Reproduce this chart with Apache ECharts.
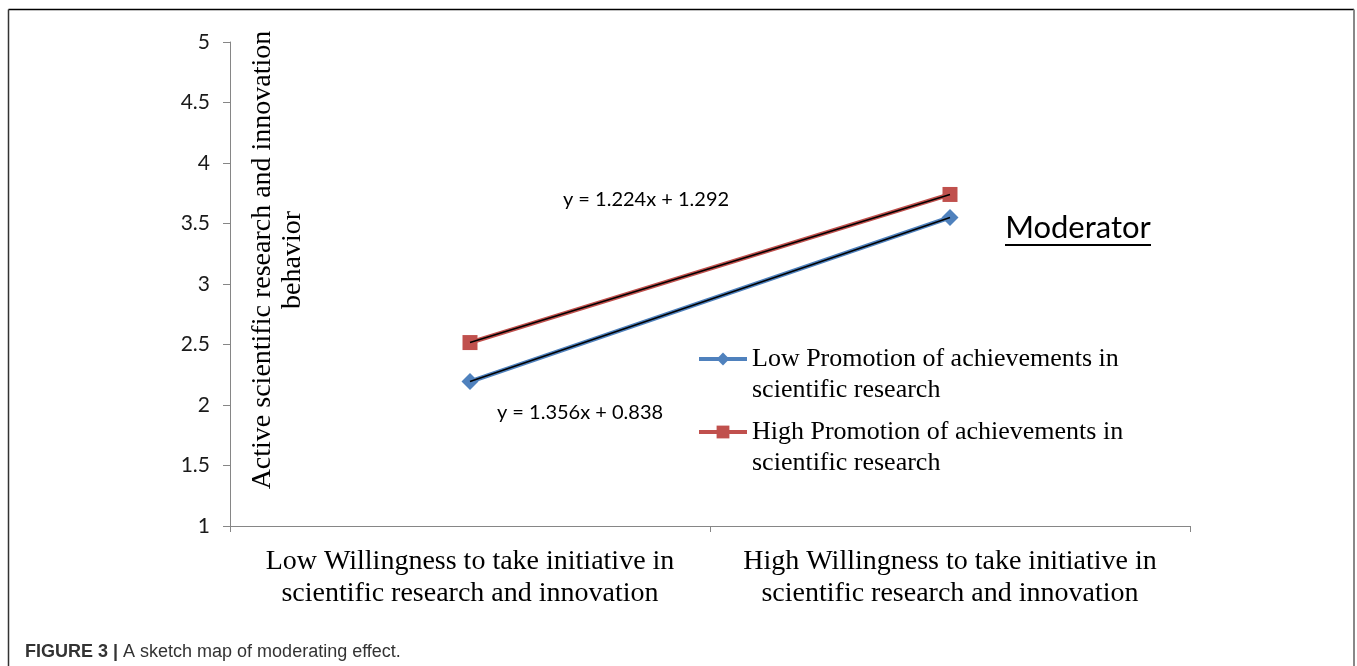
<!DOCTYPE html>
<html>
<head>
<meta charset="utf-8">
<script src="https://cdn.jsdelivr.net/npm/echarts@6/dist/echarts.min.js"></script>
<style>
html,body{margin:0;padding:0;background:#fff;}
#chart{width:1357px;height:666px;}
</style>
</head>
<body>
<div id="chart"></div>
<script>
const categories = ['Low Willingness to take initiative in\nscientific research and innovation',
                    'High Willingness to take initiative in\nscientific research and innovation'];
const lowPromotion = [2.194, 3.550];
const highPromotion = [2.516, 3.740];
const seriesNames = ['Low Promotion of achievements in\nscientific research',
                     'High Promotion of achievements in\nscientific research'];
const yTicks = {min: 1, max: 5, interval: 0.5};
const yTitle = 'Active scientific research and innovation\nbehavior';
const eqHigh = 'y = 1.224x + 1.292';
const eqLow = 'y = 1.356x + 0.838';
const caption = 'A sketch map of moderating effect.';

const BLUE = '#4F81BD', RED = '#C0504D';
const serif = '"Liberation Serif","Times New Roman",serif';
const sans = 'Lato,"Noto Sans",sans-serif';
const LH = 31;

function legendCfg(name, iconY) {
  return {
    data: [name], left: 692, top: iconY - 1.5 * LH, orient: 'vertical',
    itemWidth: 48, itemHeight: 16, itemGap: 0,
    lineStyle: {width: 4},
    formatter: n => '\n' + n,
    textStyle: {fontFamily: serif, fontSize: 26, color: '#000', lineHeight: LH}
  };
}

const chart = echarts.init(document.getElementById('chart'), null, {renderer: 'canvas'});
chart.setOption({
  animation: false,
  backgroundColor: '#fff',
  grid: {left: 230, right: 167, top: 42, bottom: 140, containLabel: false},
  xAxis: {
    type: 'category', data: categories, boundaryGap: true,
    axisLine: {lineStyle: {color: '#868686', width: 1}},
    axisTick: {show: true, length: 6, lineStyle: {color: '#868686'}},
    axisLabel: {fontFamily: serif, fontSize: 28, color: '#000', lineHeight: 32, margin: 20, interval: 0}
  },
  yAxis: {
    type: 'value', min: yTicks.min, max: yTicks.max, interval: yTicks.interval,
    axisLine: {show: true, lineStyle: {color: '#868686', width: 1}},
    axisTick: {show: true, length: 7, lineStyle: {color: '#868686'}},
    splitLine: {show: false},
    axisLabel: {fontFamily: sans, fontSize: 21, color: '#1a1a1a', margin: 20}
  },
  legend: [legendCfg(seriesNames[0], 354), legendCfg(seriesNames[1], 427)],
  series: [
    {name: seriesNames[0], type: 'line', data: lowPromotion, symbol: 'diamond', symbolSize: 17,
     itemStyle: {color: BLUE}, lineStyle: {color: BLUE, width: 4.5}, z: 2},
    {name: seriesNames[1], type: 'line', data: highPromotion, symbol: 'rect', symbolSize: 15,
     itemStyle: {color: RED}, lineStyle: {color: RED, width: 4.5}, z: 2},
    {name: 'trendLow', type: 'line', data: lowPromotion, symbol: 'none', silent: true,
     lineStyle: {color: '#000', width: 1.5}, z: 3},
    {name: 'trendHigh', type: 'line', data: highPromotion, symbol: 'none', silent: true,
     lineStyle: {color: '#000', width: 1.5}, z: 3}
  ],
  graphic: [
    {type: 'line', shape: {x1: 8.5, y1: 9.5, x2: 1354, y2: 9.5}, style: {stroke: '#000', lineWidth: 1.5}},
    {type: 'line', shape: {x1: 8.5, y1: 9.5, x2: 8.5, y2: 666}, style: {stroke: '#333', lineWidth: 1.5}},
    {type: 'line', shape: {x1: 1354, y1: 9.5, x2: 1354, y2: 666}, style: {stroke: '#888', lineWidth: 2}},
    {type: 'text', x: 278, y: 260, rotation: Math.PI / 2,
     style: {text: yTitle, font: '28px ' + serif, fill: '#000', align: 'center', verticalAlign: 'middle', lineHeight: 30}},
    {type: 'text', x: 646, y: 200,
     style: {text: eqHigh, font: '20px ' + sans, fill: '#000', align: 'center', verticalAlign: 'middle'}},
    {type: 'text', x: 580, y: 413,
     style: {text: eqLow, font: '20px ' + sans, fill: '#000', align: 'center', verticalAlign: 'middle'}},
    {type: 'text', x: 1078, y: 228,
     style: {text: 'Moderator', font: '31px ' + sans, fill: '#000', align: 'center', verticalAlign: 'middle'}},
    {type: 'line', shape: {x1: 1005, y1: 245, x2: 1151, y2: 245}, style: {stroke: '#000', lineWidth: 2}},
    {type: 'text', x: 25, y: 652,
     style: {text: '{b|FIGURE 3 |} ' + caption, font: '18px "Liberation Sans",Arial,sans-serif', fill: '#333', verticalAlign: 'middle',
       rich: {b: {fontWeight: 'bold', fontSize: 18, fontFamily: '"Liberation Sans",Arial,sans-serif', fill: '#333'}}}}
  ]
});
</script>
</body>
</html>
